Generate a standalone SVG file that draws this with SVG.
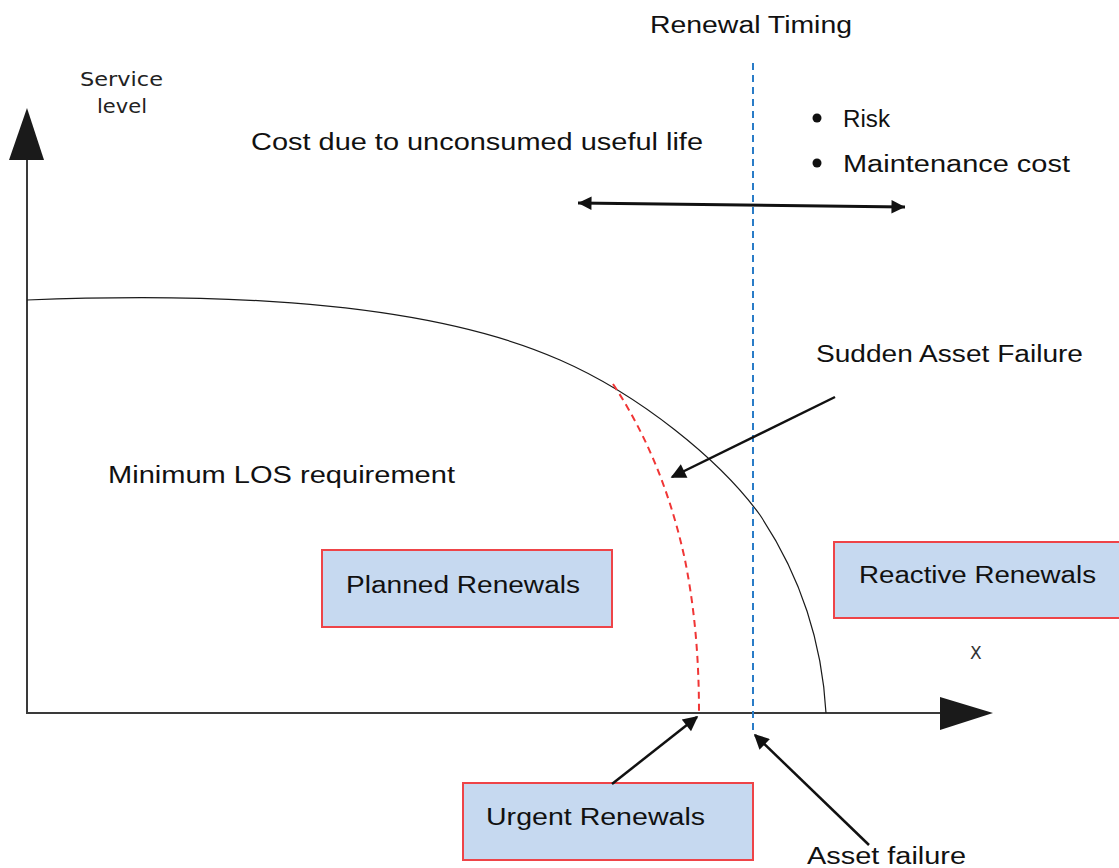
<svg xmlns="http://www.w3.org/2000/svg" width="1119" height="868" viewBox="0 0 1119 868">
<style>
.t{font-family:"Liberation Sans",Arial,sans-serif;font-size:23px;fill:#111;}
.s{font-family:"DejaVu Sans","Liberation Sans",sans-serif;font-size:19px;fill:#222;}
.box{fill:#c6d9f0;stroke:#ee4448;stroke-width:2;}
.axis{stroke:#3a3a3a;stroke-width:2;fill:none;}
.arr{stroke:#111;stroke-width:2.5;fill:none;}
</style>
<defs>
<marker id="ah" viewBox="0 0 10 10" refX="9" refY="5" markerWidth="7" markerHeight="6" markerUnits="strokeWidth" orient="auto">
<path d="M0,0 L10,5 L0,10 z" fill="#111"/>
</marker>
<marker id="ah2" viewBox="0 0 10 10" refX="10" refY="5" markerWidth="5.5" markerHeight="4.5" markerUnits="strokeWidth" orient="auto-start-reverse">
<path d="M0,0 L10,5 L0,10 z" fill="#111"/>
</marker>
</defs>
<rect width="1119" height="868" fill="#fff"/>

<g id="axes">
<line class="axis" x1="27" y1="713" x2="27" y2="158"/>
<polygon points="27,108 9,160 44,160" fill="#1a1a1a"/>
<line class="axis" x1="26" y1="713" x2="942" y2="713"/>
<polygon points="993,713 940,697 940,730" fill="#1a1a1a"/>
</g>

<g id="curves">
<path d="M27,300 C200,293 420,298 560,360 C640,395 720,460 760,515 C800,575 822,640 826,713" fill="none" stroke="#1a1a1a" stroke-width="1.2"/>
<path d="M613,384 C650,440 672,500 685,560 C695,610 699,660 699,713" fill="none" stroke="#f03535" stroke-width="2" stroke-dasharray="7,5"/>
<line x1="753" y1="63" x2="753" y2="734" stroke="#2a7cc7" stroke-width="2" stroke-dasharray="7,5"/>
</g>

<g id="labels">
<text class="s" x="80" y="86" textLength="83" lengthAdjust="spacingAndGlyphs">Service</text>
<text class="s" x="97" y="113" textLength="50" lengthAdjust="spacingAndGlyphs">level</text>
<text class="t" x="650" y="33" textLength="202" lengthAdjust="spacingAndGlyphs">Renewal Timing</text>
<text class="t" x="251" y="150" textLength="452" lengthAdjust="spacingAndGlyphs">Cost due to unconsumed useful life</text>
<circle cx="817" cy="118" r="4.5" fill="#111"/>
<text class="t" x="843" y="127" textLength="47" lengthAdjust="spacingAndGlyphs">Risk</text>
<circle cx="817" cy="163" r="4.5" fill="#111"/>
<text class="t" x="843" y="172" textLength="227" lengthAdjust="spacingAndGlyphs">Maintenance cost</text>
<text class="t" x="816" y="362" textLength="267" lengthAdjust="spacingAndGlyphs">Sudden Asset Failure</text>
<text class="t" x="108" y="483" textLength="347" lengthAdjust="spacingAndGlyphs">Minimum LOS requirement</text>
<text class="t" x="807" y="864" textLength="159" lengthAdjust="spacingAndGlyphs">Asset failure</text>
<text x="970" y="659" font-family="DejaVu Sans, sans-serif" font-size="17" fill="#333">X</text>
</g>

<g id="planned">
<rect class="box" x="322" y="550" width="290" height="77"/>
<text class="t" x="346" y="593" textLength="234" lengthAdjust="spacingAndGlyphs">Planned Renewals</text>
</g>
<g id="reactive">
<rect class="box" x="834" y="542" width="290" height="76"/>
<text class="t" x="859" y="583" textLength="237" lengthAdjust="spacingAndGlyphs">Reactive Renewals</text>
</g>
<g id="urgent">
<rect class="box" x="463" y="783" width="290" height="77"/>
<text class="t" x="486" y="825" textLength="219" lengthAdjust="spacingAndGlyphs">Urgent Renewals</text>
</g>

<g id="connectors">
<line x1="578" y1="203" x2="905" y2="207" stroke="#111" stroke-width="3" marker-start="url(#ah2)" marker-end="url(#ah2)"/>
<line class="arr" x1="835" y1="397" x2="672" y2="477" marker-end="url(#ah)"/>
<line class="arr" x1="612" y1="784" x2="697" y2="717" marker-end="url(#ah)"/>
<line class="arr" x1="869" y1="845" x2="755" y2="735" marker-end="url(#ah)"/>
</g>
</svg>
